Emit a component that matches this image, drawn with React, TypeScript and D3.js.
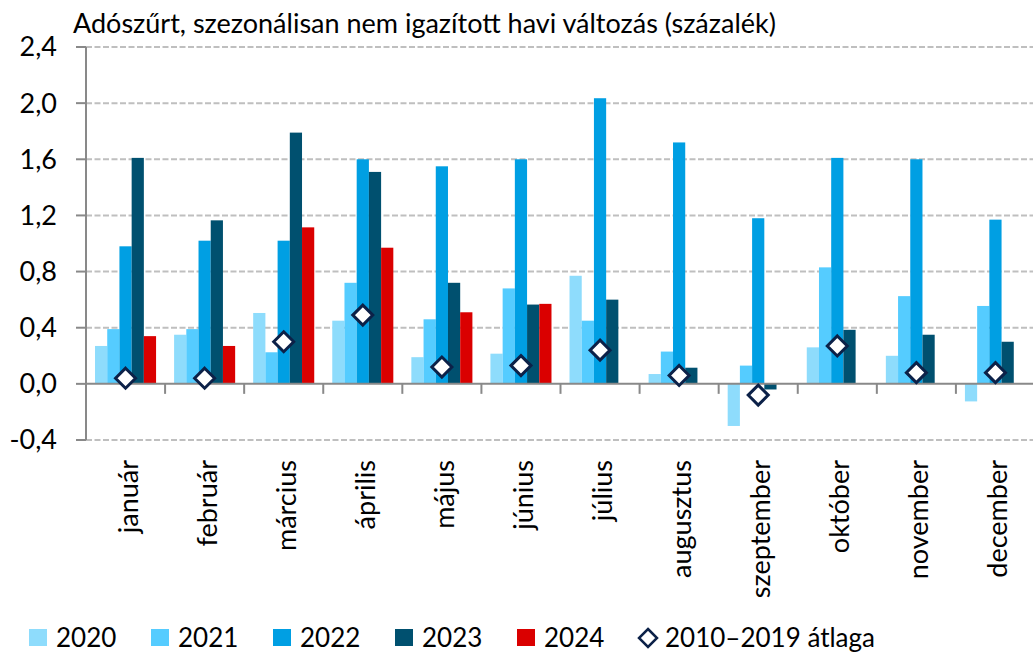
import React from 'react';
import * as d3 from 'd3';

const months = ['január', 'február', 'március', 'április', 'május', 'június', 'július', 'augusztus', 'szeptember', 'október', 'november', 'december'];
const years = ['2020', '2021', '2022', '2023', '2024'];

const v2020 = [0.27, 0.35, 0.505, 0.45, 0.19, 0.215, 0.77, 0.07, -0.3, 0.26, 0.2, -0.125];
const v2021 = [0.39, 0.39, 0.225, 0.72, 0.46, 0.68, 0.45, 0.23, 0.13, 0.83, 0.625, 0.555];
const v2022 = [0.98, 1.02, 1.02, 1.6, 1.55, 1.6, 2.035, 1.72, 1.18, 1.61, 1.6, 1.17];
const v2023 = [1.61, 1.165, 1.79, 1.51, 0.72, 0.565, 0.6, 0.115, -0.04, 0.385, 0.35, 0.3];
const v2024 = [0.34, 0.27, 1.115, 0.97, 0.51, 0.57, null, null, null, null, null, null];
const avg = [0.04, 0.04, 0.3, 0.49, 0.12, 0.13, 0.24, 0.06, -0.08, 0.27, 0.08, 0.08];

const yTicks = [-0.4, 0, 0.4, 0.8, 1.2, 1.6, 2.0, 2.4];
const colors = ['#8EDCFC', '#55CCFF', '#009FE3', '#00506F', '#DA0000'];
const avgLabel = '2010–2019 átlaga';
const title = 'Adószűrt, szezonálisan nem igazított havi változás (százalék)';

const font = 'Lato, sans-serif';

const diamond = (cx: number, cy: number, r: number) =>
  `M${cx},${cy - r}L${cx + r},${cy}L${cx},${cy + r}L${cx - r},${cy}Z`;

export default function App() {
  const W = 1033;
  const H = 654;
  const left = 86;
  const right = 1035;
  const y = d3.scaleLinear().domain([-0.4, 2.4]).range([440, 47]);
  const x = d3.scaleBand<string>().domain(months).range([left, right]).padding(0);
  const step = x.bandwidth();
  // bar group takes ~77% of each month slot
  const inner = d3.scaleBand<string>().domain(years).range([step * 0.114, step * 0.886]).padding(0);
  const series = [v2020, v2021, v2022, v2023, v2024];
  const fmt = (v: number) => d3.format('.1f')(v).replace('.', ',').replace('−', '-');

  const legendItems = [
    { label: '2020', x: 29 },
    { label: '2021', x: 151 },
    { label: '2022', x: 273 },
    { label: '2023', x: 395 },
    { label: '2024', x: 517 },
  ];

  return (
    <svg width={W} height={H} style={{ position: 'absolute', left: 0, top: 0, background: '#fff' }} fontFamily={font}>
      <text x={73} y={33} fontSize={27} fill="#000">{title}</text>

      {yTicks.map((t) => (
        <g key={t}>
          {t !== 0 && (
            <line x1={left} x2={W} y1={y(t)} y2={y(t)} stroke="#BFBFBF" strokeWidth={2} strokeDasharray="6,2.5" />
          )}
          <line x1={76} x2={left} y1={y(t)} y2={y(t)} stroke="#898989" strokeWidth={2} />
          <text x={57} y={y(t)} dy="0.35em" textAnchor="end" fontSize={27} fill="#000">{fmt(t)}</text>
        </g>
      ))}

      {months.map((m, i) => (
        <g key={m}>
          {series.map((s, j) => {
            const v = s[i];
            if (v === null || v === undefined) return null;
            return (
              <rect
                key={j}
                x={(x(m) as number) + (inner(years[j]) as number)}
                y={y(Math.max(0, v))}
                width={inner.bandwidth()}
                height={Math.abs(y(v) - y(0))}
                fill={colors[j]}
              />
            );
          })}
        </g>
      ))}

      <line x1={left} x2={left} y1={y(2.4)} y2={y(-0.4)} stroke="#898989" strokeWidth={2} />
      <line x1={left} x2={W} y1={y(0)} y2={y(0)} stroke="#898989" strokeWidth={2} />
      {months.map((m) => (
        <line key={m} x1={(x(m) as number) + step} x2={(x(m) as number) + step} y1={y(0)} y2={y(0) + 10} stroke="#898989" strokeWidth={2} />
      ))}

      {months.map((m, i) => (
        <path key={m} d={diamond((x(m) as number) + step / 2, y(avg[i]), 10)} fill="#fff" stroke="#0C2148" strokeWidth={3} strokeLinejoin="miter" />
      ))}

      {months.map((m) => {
        const cx = (x(m) as number) + step / 2 + 12;
        return (
          <text key={m} transform={`translate(${cx},460) rotate(-90)`} textAnchor="end" fontSize={27} fill="#000">{m}</text>
        );
      })}

      {legendItems.map((d, j) => (
        <g key={d.label}>
          <rect x={d.x} y={629} width={18} height={17} fill={colors[j]} />
          <text x={d.x + 27} y={647} fontSize={26} fill="#000">{d.label}</text>
        </g>
      ))}
      <path d={diamond(648, 638, 9)} fill="#fff" stroke="#0C2148" strokeWidth={2.5} />
      <text x={665} y={647} fontSize={26} fill="#000">{avgLabel}</text>
    </svg>
  );
}
